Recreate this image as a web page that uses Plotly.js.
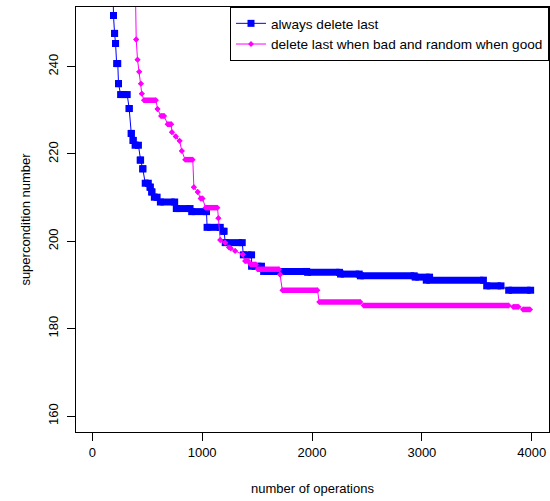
<!DOCTYPE html>
<html><head><meta charset="utf-8">
<script src="https://cdn.plot.ly/plotly-3.0.1.min.js"></script>
<style>html,body{margin:0;padding:0;background:#fff}#plot{width:550px;height:501px}</style>
</head><body><div id="plot"></div>
<script>
// Series names
const seriesNames = ["always delete last", "delete last when bad and random when good"];

// "always delete last": runs of equal value (start operation, end operation, value)
const blueStart = [188, 193, 203, 212, 222, 239, 258, 336, 355, 372, 390, 436, 460, 482, 527, 542, 565, 620, 765, 905, 1045, 1190, 1210, 1375, 1450, 1560, 1960, 2260, 2440, 2940, 3040, 3590, 3790];
const blueEnd   = [188, 193, 203, 212, 232, 239, 318, 336, 355, 372, 420, 440, 460, 510, 527, 542, 590, 750, 890, 1040, 1165, 1200, 1365, 1450, 1540, 1950, 2250, 2430, 2930, 3070, 3560, 3720, 3990];
const blueValue = [262, 251.7, 247.6, 245.3, 240.7, 236.1, 233.6, 230.4, 224.7, 223.1, 222.0, 218.6, 216.6, 213.3, 212.4, 211.3, 210.1, 209.0, 207.5, 206.8, 203.2, 202.3, 199.7, 196.9, 194.3, 193.1, 192.9, 192.5, 192.1, 191.8, 191.1, 189.8, 188.8];

// "delete last when bad and random when good"
const pinkStart = [390, 400, 412, 427, 443, 451, 470, 594, 625, 685, 725, 760, 795, 815, 845, 925, 960, 985, 1030, 1148, 1165, 1210, 1245, 1260, 1300, 1370, 1390, 1440, 1505, 1709, 1730, 2065, 2470, 3830, 3920];
const pinkEnd   = [390, 400, 412, 427, 443, 451, 580, 594, 655, 720, 725, 760, 795, 815, 915, 925, 960, 1005, 1140, 1148, 1165, 1210, 1245, 1260, 1300, 1370, 1420, 1490, 1700, 1709, 2050, 2440, 3790, 3880, 3985];
const pinkValue = [262, 246.2, 241.6, 238.8, 236.1, 233.8, 232.3, 230.3, 228.7, 226.8, 225.0, 224.0, 223.0, 220.7, 218.7, 212.4, 211.3, 209.8, 207.7, 205.3, 200.3, 199.7, 198.6, 198.4, 197.8, 197.0, 195.5, 194.7, 193.6, 192.4, 188.8, 186.1, 185.3, 185.0, 184.4];

// Axis ticks
const xTicks = [0, 1000, 2000, 3000, 4000];
const yTicks = [160, 180, 200, 220, 240];

function pathOf(s, e, v) {
  const x = [], y = [];
  for (let i = 0; i < s.length; i++) { x.push(s[i], e[i]); y.push(v[i], v[i]); }
  return {x, y};
}
function runsOf(s, e, v) {
  const x = [], y = [];
  for (let i = 0; i < s.length; i++) {
    if (e[i] > s[i]) { x.push(s[i], e[i], null); y.push(v[i], v[i], null); }
  }
  return {x, y};
}

const BLUE = "#0000FF", PINK = "#FF00FF";
const bp = pathOf(blueStart, blueEnd, blueValue), br = runsOf(blueStart, blueEnd, blueValue);
const pp = pathOf(pinkStart, pinkEnd, pinkValue), pr = runsOf(pinkStart, pinkEnd, pinkValue);

const traces = [
  {x: br.x, y: br.y, mode: "lines", line: {color: BLUE, width: 7}, showlegend: false, hoverinfo: "skip"},
  {x: bp.x, y: bp.y, mode: "lines+markers", name: seriesNames[0],
   line: {color: BLUE, width: 1}, marker: {symbol: "square", size: 7, color: BLUE}},
  {x: pr.x, y: pr.y, mode: "lines", line: {color: PINK, width: 5.5}, showlegend: false, hoverinfo: "skip"},
  {x: pp.x, y: pp.y, mode: "lines+markers", name: seriesNames[1],
   line: {color: PINK, width: 1}, marker: {symbol: "diamond", size: 4.5, color: PINK}}
];

const FONT = "Liberation Sans, Arial, Helvetica, sans-serif";
const layout = {
  width: 550, height: 501,
  margin: {l: 76, r: 1, t: 7, b: 69},
  paper_bgcolor: "#fff", plot_bgcolor: "#fff",
  font: {family: FONT, size: 13, color: "#000"},
  showlegend: true,
  legend: {x: 1, y: 1, xanchor: "right", yanchor: "top", bgcolor: "#fff",
           bordercolor: "#000", borderwidth: 1, font: {size: 13.6}, itemwidth: 30},
  xaxis: {range: [-148, 4157], tickvals: xTicks, ticktext: xTicks.map(String),
          ticks: "outside", ticklen: 8, tickcolor: "#000", showgrid: false, zeroline: false,
          showline: true, mirror: true, linecolor: "#000", linewidth: 1,
          title: {text: "number of operations", font: {size: 13}, standoff: 25}, automargin: false},
  yaxis: {range: [156.34, 253.65], tickvals: yTicks, ticktext: yTicks.map(String), tickangle: -90,
          ticks: "outside", ticklen: 8, tickcolor: "#000", showgrid: false, zeroline: false,
          ticklabelstandoff: 4,
          showline: true, mirror: true, linecolor: "#000", linewidth: 1,
          title: {text: "supercondition number", font: {size: 13}, standoff: 12}, automargin: false}
};
Plotly.newPlot("plot", traces, layout, {displayModeBar: false, staticPlot: true});
</script></body></html>
